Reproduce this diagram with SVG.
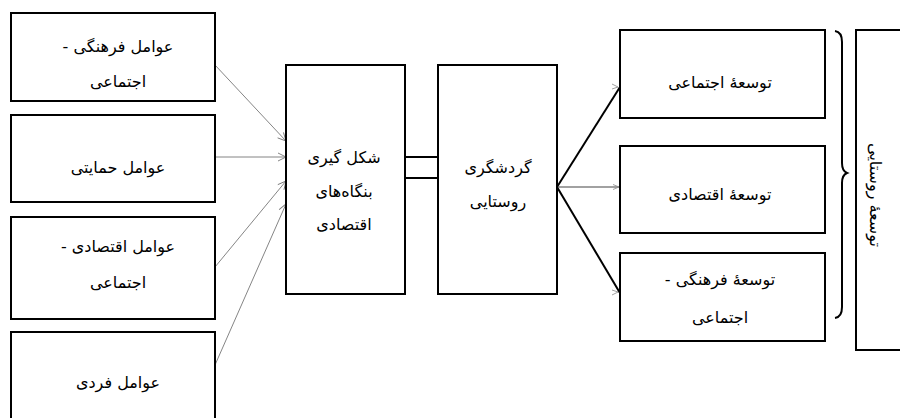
<svg xmlns="http://www.w3.org/2000/svg" width="900" height="418" viewBox="0 0 900 418">
<style>
.box{fill:#fff;stroke:#000;stroke-width:2}
.t{font-family:"DejaVu Sans",sans-serif;font-size:16px;fill:#000;text-anchor:middle;direction:rtl}
.thin{stroke:#777;stroke-width:0.9;fill:none}
.thick{stroke:#000;stroke-width:2;fill:none}
</style>
<defs>
<marker id="ah" markerWidth="10" markerHeight="10" refX="9" refY="5" orient="auto" markerUnits="userSpaceOnUse">
<path d="M1,1 L9,5 L1,9" fill="none" stroke="#777" stroke-width="0.9"/>
</marker>
<marker id="ahs" markerWidth="8" markerHeight="8" refX="7" refY="4" orient="auto" markerUnits="userSpaceOnUse">
<path d="M1,1.5 L7,4 L1,6.5" fill="none" stroke="#888" stroke-width="0.8"/>
</marker>
</defs>
<g id="connectors">
<line class="thin" x1="215" y1="65" x2="286" y2="141" marker-end="url(#ah)"/>
<line class="thin" x1="215" y1="157" x2="286" y2="157" marker-end="url(#ah)"/>
<line class="thin" x1="215" y1="267" x2="286" y2="181" marker-end="url(#ah)"/>
<line class="thin" x1="215" y1="365" x2="286" y2="204" marker-end="url(#ah)"/>
<line class="thick" x1="405" y1="157" x2="438" y2="157"/>
<line class="thick" x1="405" y1="178" x2="438" y2="178"/>
<line class="thick" x1="557" y1="187" x2="620" y2="87"/>
<line class="thick" x1="557" y1="187" x2="620" y2="293"/>
<path d="M612,84 L618,87 L612,89" fill="none" stroke="#888" stroke-width="0.8"/>
<path d="M612,290 L618,292 L612,295" fill="none" stroke="#888" stroke-width="0.8"/>
<line stroke="#444" stroke-width="1.2" x1="557" y1="187" x2="619" y2="187" marker-end="url(#ahs)"/>
<path class="thick" d="M835,31 Q842,32 842,42 L842,163 Q842,171 847,173 Q842,175 842,183 L842,307 Q842,317 835,318"/>
</g>
<g id="n1"><rect class="box" x="11" y="13" width="204" height="88"/>
<text class="t" x="118" y="52">عوامل فرهنگی -</text><text class="t" x="118" y="87">اجتماعی</text></g>
<g id="n2"><rect class="box" x="11" y="115" width="204" height="87"/>
<text class="t" x="118" y="173">عوامل حمایتی</text></g>
<g id="n3"><rect class="box" x="11" y="217" width="204" height="102"/>
<text class="t" x="118" y="252">عوامل اقتصادی -</text><text class="t" x="118" y="288">اجتماعی</text></g>
<g id="n4"><rect class="box" x="11" y="332" width="204" height="100"/>
<text class="t" x="118" y="388">عوامل فردی</text></g>
<g id="n5"><rect class="box" x="286" y="65" width="119" height="229"/>
<text class="t" x="344" y="163">شکل گیری</text><text class="t" x="344" y="197">بنگاه‌های</text><text class="t" x="344" y="230">اقتصادی</text></g>
<g id="n6"><rect class="box" x="438" y="65" width="119" height="229"/>
<text class="t" x="498" y="173">گردشگری</text><text class="t" x="498" y="207">روستایی</text></g>
<g id="n7"><rect class="box" x="620" y="30" width="205" height="88"/>
<text class="t" x="720" y="88">توسعهٔ اجتماعی</text></g>
<g id="n8"><rect class="box" x="620" y="146" width="205" height="87"/>
<text class="t" x="720" y="200">توسعهٔ اقتصادی</text></g>
<g id="n9"><rect class="box" x="620" y="253" width="205" height="88"/>
<text class="t" x="720" y="285">توسعهٔ فرهنگی -</text><text class="t" x="720" y="323">اجتماعی</text></g>
<g id="n10"><rect class="box" x="856" y="30" width="50" height="320"/>
<text class="t" transform="translate(870,195) rotate(90)" x="0" y="0">توسعهٔ روستایی</text></g>
</svg>
